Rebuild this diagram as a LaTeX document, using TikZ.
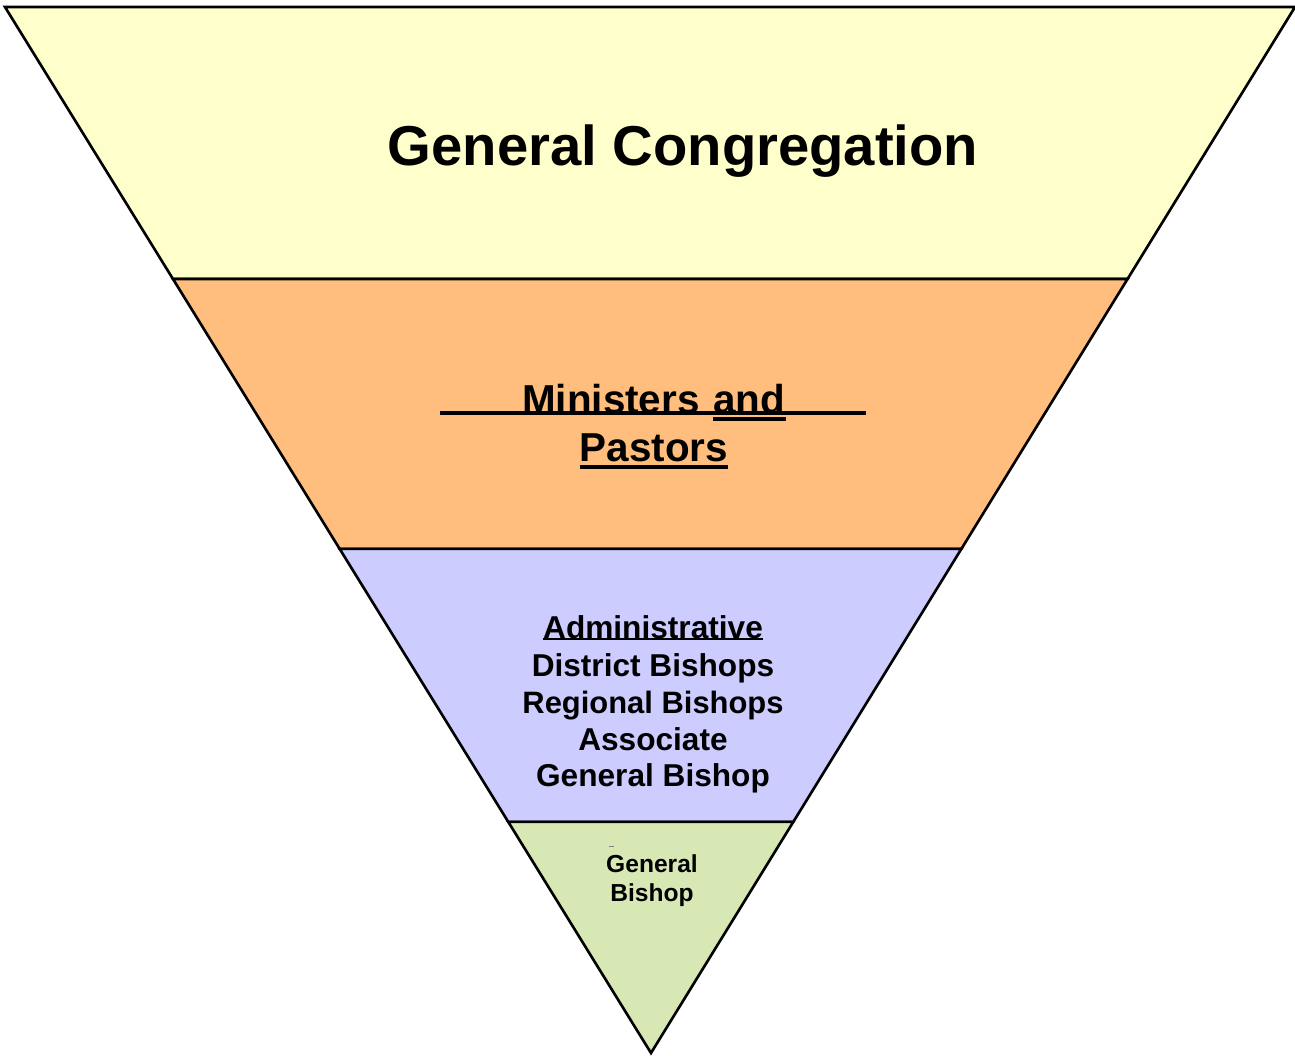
\documentclass[tikz,border=0pt]{standalone}
\usepackage{fontspec}
\setmainfont{Liberation Sans}
\usetikzlibrary{calc}
\definecolor{bandyellow}{RGB}{255,255,204}
\definecolor{bandorange}{RGB}{255,190,125}
\definecolor{bandblue}{RGB}{204,204,255}
\definecolor{bandgreen}{RGB}{216,232,180}
\tikzset{
  band/.style={draw=black,line width=1.5pt,line join=miter},
  label/.style={font=\bfseries,text=black,inner sep=0pt},
}
\begin{document}
\begin{tikzpicture}[x=0.02cm,y=-0.02cm]
\useasboundingbox (0,0) rectangle (1295,1055);

% outline of the triangle
\coordinate (tl) at (5,7);
\coordinate (tr) at (1295,7);
\coordinate (ap) at (651,1053);
\coordinate (l1) at ($(tl)!0.26!(ap)$);
\coordinate (r1) at ($(tr)!0.26!(ap)$);
\coordinate (l2) at ($(tl)!0.518!(ap)$);
\coordinate (r2) at ($(tr)!0.518!(ap)$);
\coordinate (l3) at ($(tl)!0.779!(ap)$);
\coordinate (r3) at ($(tr)!0.779!(ap)$);

% bands
\draw[band,fill=bandyellow] (tl) -- (tr) -- (r1) -- (l1) -- cycle;
\draw[band,fill=bandorange] (l1) -- (r1) -- (r2) -- (l2) -- cycle;
\draw[band,fill=bandblue] (l2) -- (r2) -- (r3) -- (l3) -- cycle;
\draw[band,fill=bandgreen] (l3) -- (r3) -- (ap) -- cycle;

% top band
\node[label,font=\bfseries\fontsize{32}{38}\selectfont,anchor=base] (cong) at (683,165) {General Congregation};

% second band
\node[label,font=\bfseries\fontsize{23}{28}\selectfont,anchor=base east] (mins) at (700,413) {Ministers};
\node[label,font=\bfseries\fontsize{23}{28}\selectfont,anchor=base west] (and) at (713,413) {and};
\node[label,font=\bfseries\fontsize{23}{28}\selectfont,anchor=base] (past) at (654,461) {Pastors};
\draw[line width=2.2pt] (440,413) -- (866,413);
\draw[line width=2.4pt] ([yshift=-3.6pt]and.base west) -- ([yshift=-3.6pt]and.base east);
\draw[line width=2.4pt] ([yshift=-3.6pt]past.base west) -- ([yshift=-3.6pt]past.base east);

% third band
\node[label,font=\bfseries\fontsize{18}{21}\selectfont,anchor=base] (adm) at (653,638) {Administrative};
\draw[line width=1.4pt] ([yshift=-0.6pt]adm.base west) -- ([yshift=-0.6pt]adm.base east);
\node[label,font=\bfseries\fontsize{18}{21}\selectfont,anchor=base] (dist) at (653,676) {District Bishops};
\node[label,font=\bfseries\fontsize{17.6}{21}\selectfont,anchor=base] (reg) at (653,713) {Regional Bishops};
\node[label,font=\bfseries\fontsize{18}{21}\selectfont,anchor=base] (assoc) at (653,750) {Associate};
\node[label,font=\bfseries\fontsize{18}{21}\selectfont,anchor=base] (genb) at (653,786) {General Bishop};

% bottom band
\draw[gray,line width=0.4pt] (609,846) -- (614,846);
\node[label,font=\bfseries\fontsize{14}{17}\selectfont,anchor=base] (gen) at (652,872) {General};
\node[label,font=\bfseries\fontsize{14}{17}\selectfont,anchor=base] (bish) at (652,901) {Bishop};
\end{tikzpicture}
\end{document}
